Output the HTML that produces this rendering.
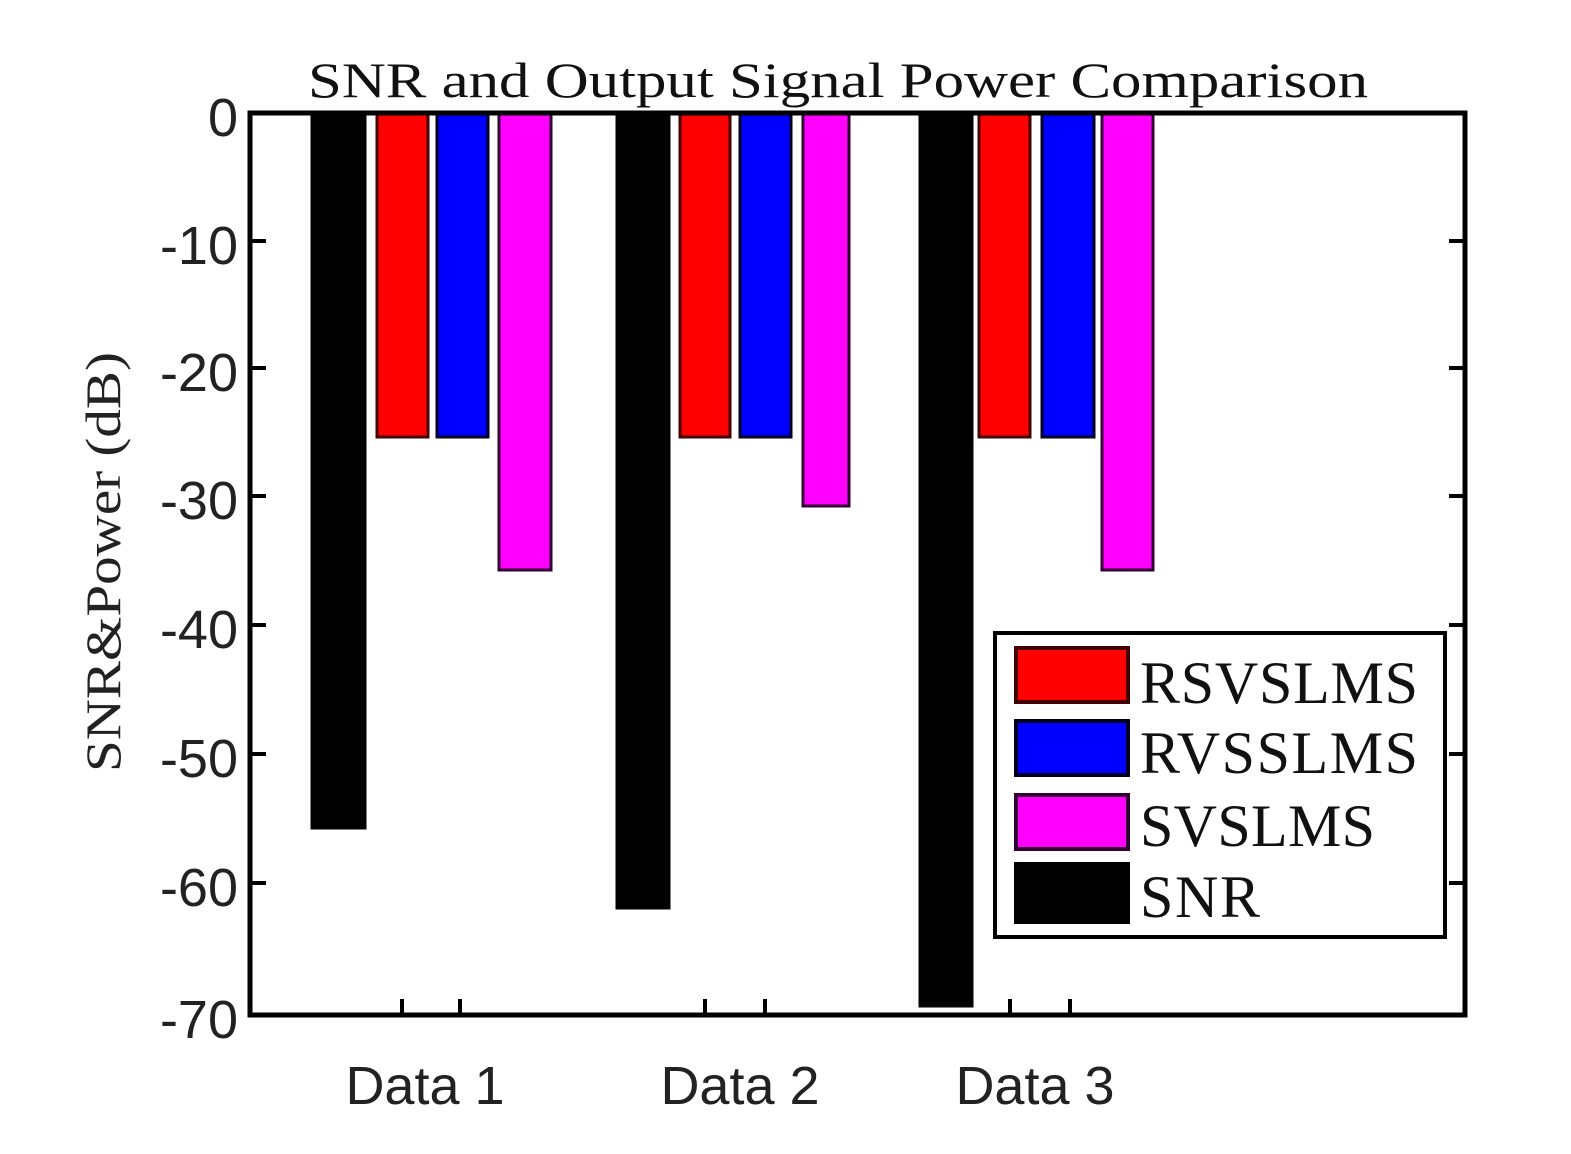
<!DOCTYPE html>
<html><head><style>body{margin:0;background:#fff}svg{display:block}</style></head><body>
<svg width="1571" height="1154" xmlns="http://www.w3.org/2000/svg">
<rect width="1571" height="1154" fill="#fff"/>
<text x="838" y="97" font-family="Liberation Serif, serif" font-size="50" text-anchor="middle" textLength="1060" lengthAdjust="spacingAndGlyphs" fill="#111">SNR and Output Signal Power Comparison</text>
<g stroke-width="3">
<rect x="312" y="113" width="53" height="715" fill="#000" stroke="#000"/>
<rect x="377" y="113" width="51" height="324" fill="#f00" stroke="#400"/>
<rect x="437" y="113" width="51" height="324" fill="#00f" stroke="#002"/>
<rect x="499" y="113" width="52" height="457" fill="#f0f" stroke="#303"/>
<rect x="617" y="113" width="52" height="795" fill="#000" stroke="#000"/>
<rect x="680" y="113" width="50" height="324" fill="#f00" stroke="#400"/>
<rect x="740" y="113" width="51" height="324" fill="#00f" stroke="#002"/>
<rect x="803" y="113" width="46" height="393" fill="#f0f" stroke="#303"/>
<rect x="920" y="113" width="52" height="893" fill="#000" stroke="#000"/>
<rect x="979" y="113" width="51" height="324" fill="#f00" stroke="#400"/>
<rect x="1042" y="113" width="52" height="324" fill="#00f" stroke="#002"/>
<rect x="1102" y="113" width="51" height="457" fill="#f0f" stroke="#303"/>
</g>
<rect x="250" y="113" width="1215" height="902" fill="none" stroke="#000" stroke-width="5"/>
<g stroke="#000" stroke-width="4">
<path d="M250 241h16M250 368h16M250 496h16M250 625h16M250 754h16M250 883h16"/>
<path d="M1465 241h-16M1465 368h-16M1465 496h-16M1465 625h-16M1465 754h-16M1465 883h-16"/>
<path d="M402 1015v-16M460 1015v-16M705 1015v-16M765 1015v-16M1010 1015v-16M1070 1015v-16"/>
</g>
<g font-family="Liberation Sans, sans-serif" font-size="54" text-anchor="end" fill="#222">
<text x="238" y="136">0</text>
<text x="238" y="264">-10</text>
<text x="238" y="391">-20</text>
<text x="238" y="519">-30</text>
<text x="238" y="648">-40</text>
<text x="238" y="777">-50</text>
<text x="238" y="906">-60</text>
<text x="238" y="1038">-70</text>
</g>
<g font-family="Liberation Sans, sans-serif" font-size="54" text-anchor="middle" fill="#222">
<text x="425" y="1104">Data 1</text>
<text x="740" y="1104">Data 2</text>
<text x="1035" y="1104">Data 3</text>
</g>
<text transform="translate(120,562) rotate(-90)" font-family="Liberation Serif, serif" font-size="50" text-anchor="middle" textLength="420" lengthAdjust="spacingAndGlyphs" fill="#222">SNR&amp;Power (dB)</text>
<rect x="995" y="633" width="450" height="304" fill="#fff" stroke="#000" stroke-width="4"/>
<g stroke-width="4">
<rect x="1016" y="648" width="112" height="54" fill="#f00" stroke="#400"/>
<rect x="1016" y="721" width="112" height="54" fill="#00f" stroke="#002"/>
<rect x="1016" y="795" width="112" height="54" fill="#f0f" stroke="#303"/>
<rect x="1016" y="864" width="112" height="58" fill="#000" stroke="#000"/>
</g>
<g font-family="Liberation Serif, serif" font-size="60" fill="#111" lengthAdjust="spacingAndGlyphs">
<text x="1140" y="703" textLength="278">RSVSLMS</text>
<text x="1140" y="773" textLength="278">RVSSLMS</text>
<text x="1140" y="846" textLength="235">SVSLMS</text>
<text x="1140" y="917" textLength="120">SNR</text>
</g>
</svg>
</body></html>
